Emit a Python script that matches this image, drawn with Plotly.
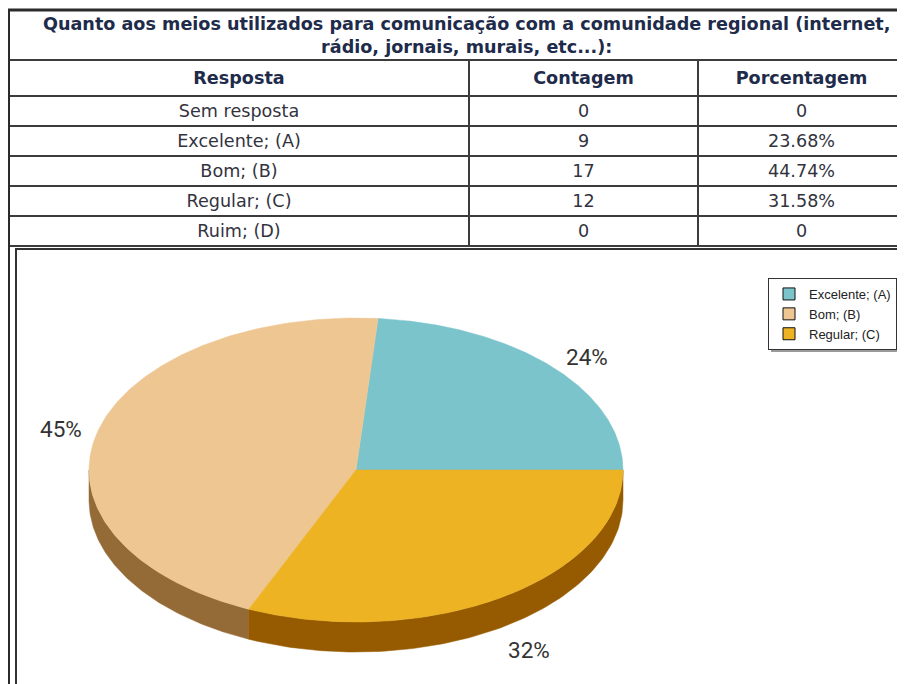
import numpy as np
import plotly.graph_objects as go

# ---------------- data ----------------
title_text = "Quanto aos meios utilizados para comunicação com a comunidade regional (internet,<br>rádio, jornais, murais, etc...):"
col_headers = ["Resposta", "Contagem", "Porcentagem"]
respostas = ["Sem resposta", "Excelente; (A)", "Bom; (B)", "Regular; (C)", "Ruim; (D)"]
contagens = [0, 9, 17, 12, 0]
porcentagens = ["0", "23.68%", "44.74%", "31.58%", "0"]

top_colors = {"Excelente; (A)": "#7BC4CC", "Bom; (B)": "#EEC692", "Regular; (C)": "#EDB323"}
side_colors = {"Excelente; (A)": "#3E7C82", "Bom; (B)": "#946A37", "Regular; (C)": "#965B00"}

# ---------------- layout constants (page pixels) ----------------
OFF = 8                      # default body margin of the html page
PW, PH = 905, 684            # page size
FW, FH = PW - OFF, PH - OFF  # figure size
CX, CY, RX, RY, DEPTH = 356, 470, 267, 152, 30


def px(x):
    return (x - OFF) / FW


def py(y):
    return 1 - (y - OFF) / FH


fig = go.Figure()

# ---------------- table ----------------
fig.add_trace(go.Table(
    domain=dict(x=[px(9), 1], y=[py(250), py(60)]),
    columnwidth=[460, 229, 207],
    header=dict(
        values=[f"<b>{h}</b>" for h in col_headers],
        height=30,
        align="center",
        fill_color="white",
        line=dict(color="#3c3c3c", width=2),
        font=dict(family="DejaVu Sans", size=17.6, color="#1e2b4a"),
    ),
    cells=dict(
        values=[respostas, [str(c) for c in contagens], porcentagens],
        height=30,
        align="center",
        fill_color="white",
        line=dict(color="#3c3c3c", width=2),
        font=dict(family="DejaVu Sans", size=17.6, color="#333340"),
    ),
))

# ---------------- 3D pie built from counts ----------------
labels = [r for r, c in zip(respostas, contagens) if c > 0]
values = [c for c in contagens if c > 0]
total = sum(values)
starts, ends = [], []
acc = 0.0
for v in values:
    starts.append(acc)
    acc += v / total * 360.0
    ends.append(acc)


def ell(theta_deg, dy=0.0):
    t = np.radians(theta_deg)
    return CX + RX * np.cos(t), CY - RY * np.sin(t) + dy


# sides (front half: 180..360 degrees)
for lab, a, b in zip(labels, starts, ends):
    lo, hi = max(a, 180.0), min(b, 360.0)
    if hi <= lo:
        continue
    th = np.linspace(lo, hi, 120)
    xt, yt = ell(th)
    xb, yb = ell(th[::-1], DEPTH)
    fig.add_trace(go.Scatter(
        x=np.concatenate([xt, xb, xt[:1]]), y=np.concatenate([yt, yb, yt[:1]]),
        mode="lines", fill="toself", fillcolor=side_colors[lab],
        line=dict(color=side_colors[lab], width=0.5),
        hoverinfo="skip", showlegend=False, xaxis="x", yaxis="y",
    ))

# top faces
for lab, a, b in zip(labels, starts, ends):
    th = np.linspace(a, b, 200)
    xt, yt = ell(th)
    fig.add_trace(go.Scatter(
        x=np.concatenate([[CX], xt, [CX]]), y=np.concatenate([[CY], yt, [CY]]),
        mode="lines", fill="toself", fillcolor=top_colors[lab],
        line=dict(color=top_colors[lab], width=0.5),
        hoverinfo="skip", showlegend=False, xaxis="x", yaxis="y",
    ))

# legend entries
for lab in labels:
    fig.add_trace(go.Scatter(
        x=[None], y=[None], mode="markers", name=lab,
        marker=dict(symbol="square", size=12, color=top_colors[lab],
                    line=dict(color="#111111", width=1)),
        xaxis="x", yaxis="y",
    ))

# percentage labels
annotations = []
for lab, v, a, b in zip(labels, values, starts, ends):
    mid = (a + b) / 2
    t = np.radians(mid)
    c, s = np.cos(t), np.sin(t)
    x = CX + 1.155 * RX * c + 4
    y = CY - RY * 1.1 * s + (DEPTH + 10 if s < 0 else 0)
    annotations.append(dict(
        x=x, y=y, xref="x", yref="y", text=f"{round(v / total * 100)}%",
        showarrow=False, xanchor="center", yanchor="middle",
        font=dict(family="Roboto, Liberation Sans", size=22.5, color="#333333"),
    ))

annotations.append(dict(
    x=px(466), y=py(36), xref="paper", yref="paper", text=f"<b>{title_text}</b>",
    showarrow=False, xanchor="center", yanchor="middle", align="center",
    font=dict(family="DejaVu Sans", size=17.6, color="#1e2b4a"),
))

shapes = [
    # outer frame
    dict(type="line", xref="paper", yref="paper", x0=px(8), x1=1, y0=py(10), y1=py(10),
         line=dict(color="#2b2b2b", width=3)),
    dict(type="line", xref="paper", yref="paper", x0=px(9), x1=px(9), y0=py(9), y1=0,
         line=dict(color="#2b2b2b", width=2)),
    # chart box
    dict(type="rect", xref="paper", yref="paper", x0=px(16), x1=px(915), y0=py(700), y1=py(249),
         line=dict(color="#333333", width=2), fillcolor="rgba(0,0,0,0)"),
    # legend shadow
    dict(type="rect", xref="paper", yref="paper", x0=px(771), x1=px(915), y0=py(352), y1=py(284),
         line=dict(width=0), fillcolor="#9a9a9a", layer="below"),
]

fig.update_layout(
    width=FW, height=FH,
    margin=dict(l=0, r=0, t=0, b=0),
    paper_bgcolor="white", plot_bgcolor="rgba(0,0,0,0)",
    xaxis=dict(range=[OFF, PW], domain=[0, 1], visible=False, fixedrange=True),
    yaxis=dict(range=[PH, OFF], domain=[0, 1], visible=False, fixedrange=True),
    showlegend=True,
    legend=dict(
        x=px(768), y=py(278), xanchor="left", yanchor="top",
        bgcolor="white", bordercolor="#333333", borderwidth=1,
        font=dict(family="Liberation Sans, Arial", size=13, color="#222222"),
        traceorder="normal", itemclick=False, itemdoubleclick=False,
    ),
    annotations=annotations,
    shapes=shapes,
)

fig.write_html("out.html")
